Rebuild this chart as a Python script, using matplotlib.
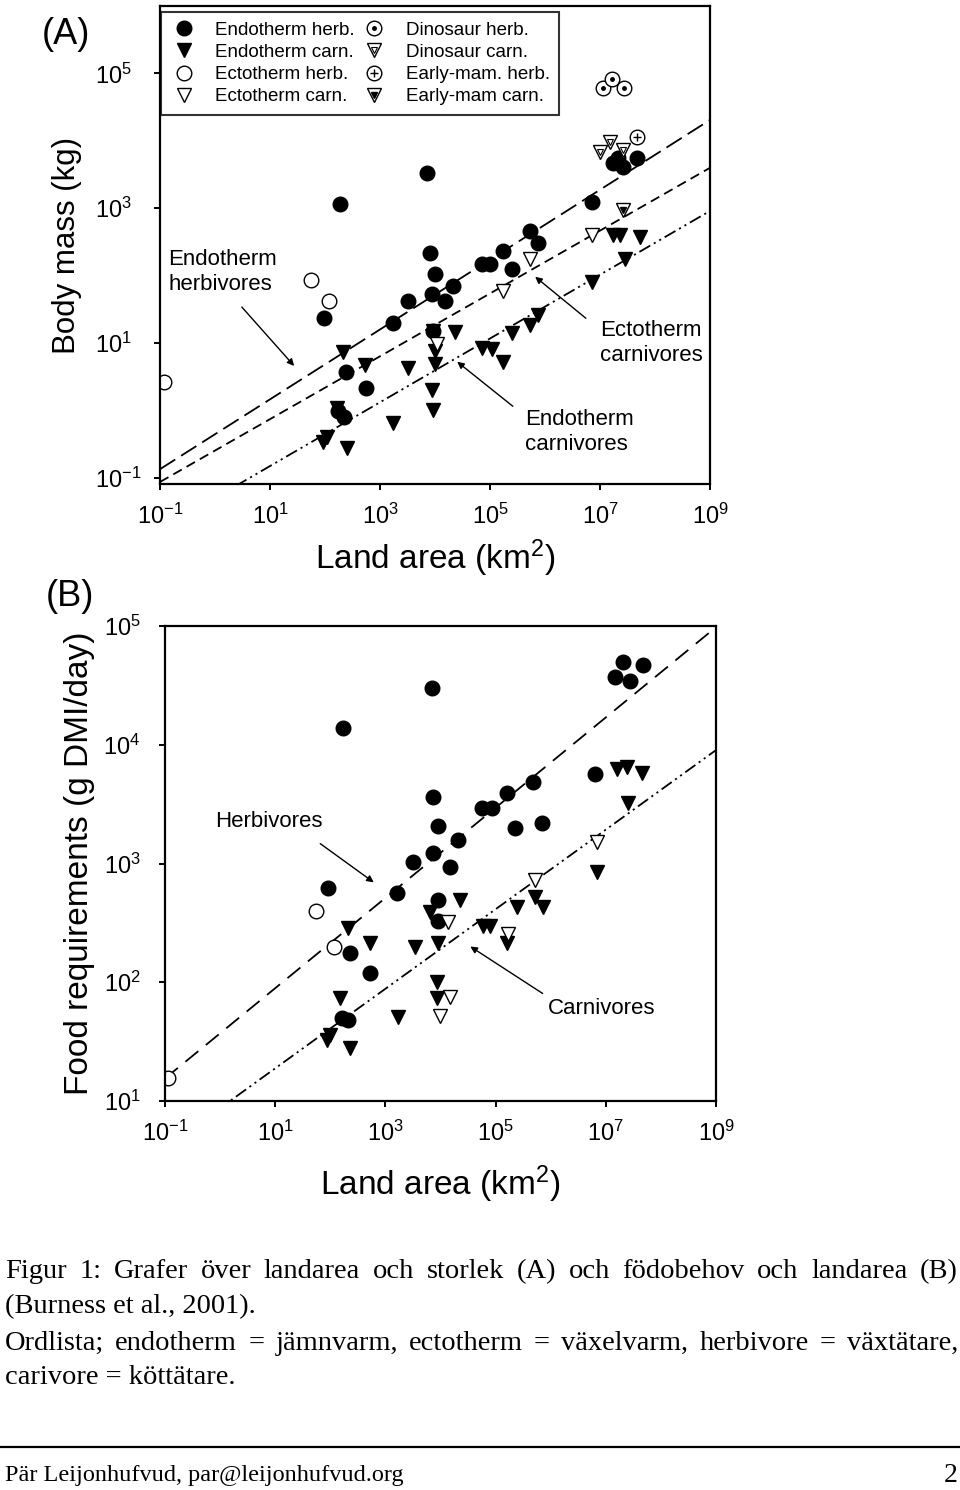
import numpy as np
import matplotlib
matplotlib.use("Agg")
import matplotlib.pyplot as plt
from matplotlib.lines import Line2D

plt.rcParams['font.family'] = ['Liberation Sans', 'DejaVu Sans']
plt.rcParams['mathtext.fontset'] = 'custom'
plt.rcParams['mathtext.rm'] = 'Liberation Sans'
plt.rcParams['mathtext.it'] = 'Liberation Sans:italic'
plt.rcParams['mathtext.bf'] = 'Liberation Sans:bold'
plt.rcParams['lines.scale_dashes'] = False

# ---- data, log10 units ----
# Panel A: land area (km2) vs body mass (kg)
a_endo_herb_x = [2.27, 3.85, 1.98, 2.38, 2.75, 2.24, 2.35, 3.24, 3.51, 3.91, 4.00, 3.95, 4.18,
                 4.33, 4.85, 5.00, 5.24, 5.40, 5.73, 5.87, 6.85, 7.24, 7.42, 7.67, 7.33, 3.96]
a_endo_herb_y = [3.06, 3.52, 1.37, 0.57, 0.33, -0.01, -0.10, 1.30, 1.63, 2.33, 2.03, 1.73, 1.63,
                 1.85, 2.18, 2.18, 2.37, 2.10, 2.67, 2.49, 3.09, 3.67, 3.61, 3.75, 3.75, 1.18]
a_endo_carn_x = [2.33, 2.73, 3.51, 3.96, 4.36, 4.00, 4.00, 3.95, 3.96, 3.24, 2.22, 2.04, 1.96,
                 2.40, 4.85, 5.04, 5.24, 5.40, 5.73, 5.87, 6.85, 7.24, 7.36, 7.73, 7.45]
a_endo_carn_y = [0.87, 0.67, 0.63, 1.18, 1.16, 0.88, 0.69, 0.31, 0.01, -0.19, 0.03, -0.40, -0.46,
                 -0.55, 0.93, 0.91, 0.72, 1.15, 1.27, 1.42, 1.90, 2.60, 2.60, 2.58, 2.25]
a_ecto_herb_x = [1.75, 2.07, -0.93]
a_ecto_herb_y = [1.94, 1.63, 0.43]
a_ecto_carn_x = [5.24, 5.73, 6.85, 4.04]
a_ecto_carn_y = [1.78, 2.25, 2.60, 0.99]
a_dino_herb_x = [7.05, 7.22, 7.44]
a_dino_herb_y = [4.79, 4.91, 4.79]
a_dino_carn_x = [7.00, 7.18, 7.42]
a_dino_carn_y = [3.84, 3.99, 3.87]
a_early_herb_x = [7.67]
a_early_herb_y = [4.06]
a_early_carn_x = [7.42]
a_early_carn_y = [2.97]

# Panel B: land area (km2) vs food requirements (g DMI/day)
b_endo_herb_x = [3.85, 2.23, 3.86, 3.95, 4.32, 3.86, 3.50, 4.17, 3.21, 1.96, 2.36, 2.72, 2.21,
                 2.32, 3.95, 3.95, 4.75, 4.93, 5.21, 5.68, 5.35, 5.84, 7.31, 7.68, 7.17, 7.44, 6.80]
b_endo_herb_y = [4.48, 4.14, 3.56, 3.32, 3.20, 3.09, 3.01, 2.97, 2.75, 2.79, 2.25, 2.08, 1.70,
                 1.68, 2.69, 2.52, 3.47, 3.47, 3.59, 3.69, 3.30, 3.34, 4.70, 4.67, 4.57, 4.54, 3.75]
b_endo_carn_x = [2.32, 2.72, 3.54, 3.95, 3.81, 4.35, 3.94, 3.94, 3.23, 2.18, 1.99, 2.36, 1.94,
                 4.77, 4.90, 5.21, 5.39, 5.72, 5.86, 7.20, 7.38, 7.66, 7.40, 6.84]
b_endo_carn_y = [2.46, 2.33, 2.30, 2.33, 2.59, 2.69, 2.00, 1.87, 1.71, 1.87, 1.56, 1.45, 1.51,
                 2.47, 2.47, 2.33, 2.63, 2.72, 2.63, 3.80, 3.81, 3.76, 3.51, 2.93]
b_ecto_herb_x = [-0.95, 1.74, 2.07]
b_ecto_herb_y = [1.19, 2.60, 2.30]
b_ecto_carn_x = [4.14, 5.72, 6.84, 4.17, 3.99, 5.22]
b_ecto_carn_y = [2.51, 2.86, 3.18, 1.88, 1.72, 2.41]

# regression lines: log10 value at 10^-1 km2 and slope per decade
a_line_names = ["Endotherm herbivores", "Ectotherm carnivores", "Endotherm carnivores"]
a_line_start = [-0.87, -1.06, -1.77]
a_line_slope = [0.518, 0.466, 0.473]
b_line_names = ["Herbivores", "Carnivores"]
b_line_start = [1.19, 0.605]
b_line_slope = [0.380, 0.335]

x_ticks_a = [-1, 1, 3, 5, 7, 9]
y_ticks_a = [-1, 1, 3, 5]
y_ticks_b = [1, 2, 3, 4, 5]

# ---- figure ----
W, H = 960, 1490
fig = plt.figure(figsize=(W / 100, H / 100), dpi=100)


def fx(px):
    return px / W


def fy(py):
    return 1 - py / H


def p(v):
    return 10.0 ** np.asarray(v)


filled_circle = dict(marker='o', ms=10.5, mfc='black', mec='black', mew=1, ls='none')
filled_tri = dict(marker='v', ms=10.5, mfc='black', mec='black', mew=1, ls='none')
open_circle = dict(marker='o', ms=10.5, mfc='white', mec='black', mew=1, ls='none')
open_tri = dict(marker='v', ms=10.5, mfc='white', mec='black', mew=1, ls='none')
dot_in = dict(marker='o', ms=2.5, mfc='black', mec='black', ls='none')
small_tri = dict(marker='v', ms=4.5, mfc='white', mec='black', mew=0.8, ls='none')
plus_in = dict(marker='+', ms=6, mec='black', mew=1, ls='none')
small_tri_fill = dict(marker='v', ms=5, mfc='black', mec='black', ls='none')

line_dashes_a = [(13, 5), (7, 4), (9, 3, 1.5, 3, 1.5, 3)]
line_dashes_b = [(12, 7), (9, 3, 1.5, 3, 1.5, 3)]


def style_axes(ax, yticks):
    ax.set_xscale('log')
    ax.set_yscale('log')
    ax.set_xticks(p(x_ticks_a))
    ax.set_xticklabels(['10$^{%d}$' % t for t in x_ticks_a])
    ax.set_yticks(p(yticks))
    ax.set_yticklabels(['10$^{%d}$' % t for t in yticks])
    ax.minorticks_off()
    ax.tick_params(direction='out', length=4.5, width=1.4, labelsize=17)
    ax.tick_params(axis='x', pad=10)
    for s in ax.spines.values():
        s.set_linewidth(1.6)


# Panel A
axA = fig.add_axes([fx(160), fy(484), 550 / W, 478 / H])
xs = np.linspace(-1, 9, 50)
for st, sl, ds in zip(a_line_start, a_line_slope, line_dashes_a):
    axA.plot(p(xs), p(st + sl * (xs + 1)), color='black', lw=1.3, dashes=ds)
axA.plot(p(a_endo_herb_x), p(a_endo_herb_y), **filled_circle)
axA.plot(p(a_endo_carn_x), p(a_endo_carn_y), **filled_tri)
axA.plot(p(a_ecto_herb_x), p(a_ecto_herb_y), **open_circle)
axA.plot(p(a_ecto_carn_x), p(a_ecto_carn_y), **open_tri)
axA.plot(p(a_dino_herb_x), p(a_dino_herb_y), **open_circle)
axA.plot(p(a_dino_herb_x), p(a_dino_herb_y), **dot_in)
axA.plot(p(a_dino_carn_x), p(a_dino_carn_y), **open_tri)
axA.plot(p(a_dino_carn_x), p(a_dino_carn_y), **small_tri)
axA.plot(p(a_early_herb_x), p(a_early_herb_y), **open_circle)
axA.plot(p(a_early_herb_x), p(a_early_herb_y), **plus_in)
axA.plot(p(a_early_carn_x), p(a_early_carn_y), **open_tri)
axA.plot(p(a_early_carn_x), p(a_early_carn_y), **small_tri_fill)
axA.set_xlim(p(-1), p(9))
axA.set_ylim(p(-1.09), p(6))
style_axes(axA, y_ticks_a)
axA.tick_params(axis='y', pad=42)
for lab in axA.get_yticklabels():
    lab.set_horizontalalignment('left')
axA.set_xlabel('Land area (km$^2$)', fontsize=24, labelpad=6)
axA.set_ylabel('Body mass (kg)', fontsize=22.5, labelpad=10)

handles = [Line2D([], [], **filled_circle), Line2D([], [], **filled_tri),
           Line2D([], [], **open_circle), Line2D([], [], **open_tri),
           (Line2D([], [], **open_circle), Line2D([], [], **dot_in)),
           (Line2D([], [], **open_tri), Line2D([], [], **small_tri)),
           (Line2D([], [], **open_circle), Line2D([], [], **plus_in)),
           (Line2D([], [], **open_tri), Line2D([], [], **small_tri_fill))]
labels = ['Endotherm herb.', 'Endotherm carn.', 'Ectotherm herb.', 'Ectotherm carn.',
          'Dinosaur herb.', 'Dinosaur carn.', 'Early-mam. herb.', 'Early-mam carn.']
leg = axA.legend(handles, labels, ncol=2, loc='upper left', bbox_to_anchor=(0.002, 0.987),
                 borderaxespad=0, fontsize=13.5, frameon=True, fancybox=False,
                 handlelength=1.4, handletextpad=1.0, columnspacing=0.3, labelspacing=0.27,
                 borderpad=0.5)
leg.get_frame().set_edgecolor('black')
leg.get_frame().set_linewidth(1.5)

# Panel B
axB = fig.add_axes([fx(165), fy(1101), 551 / W, 475 / H])
for st, sl, ds in zip(b_line_start, b_line_slope, line_dashes_b):
    axB.plot(p(xs), p(st + sl * (xs + 1)), color='black', lw=1.3, dashes=ds)
axB.plot(p(b_endo_herb_x), p(b_endo_herb_y), **filled_circle)
axB.plot(p(b_endo_carn_x), p(b_endo_carn_y), **filled_tri)
axB.plot(p(b_ecto_herb_x), p(b_ecto_herb_y), **open_circle)
axB.plot(p(b_ecto_carn_x), p(b_ecto_carn_y), **open_tri)
axB.set_xlim(p(-1), p(9))
axB.set_ylim(p(1), p(5))
style_axes(axB, y_ticks_b)
axB.tick_params(axis='y', pad=13)
axB.set_xlabel('Land area (km$^2$)', fontsize=24, labelpad=12)
axB.set_ylabel('Food requirements (g DMI/day)', fontsize=24, labelpad=6)

# annotations
notes = [("Endotherm\nherbivores", 168, 272, 240, 305, 296, 368),
         ("Ectotherm\ncarnivores", 600, 343, 588, 320, 533, 275),
         ("Endotherm\ncarnivores", 525, 432, 515, 408, 455, 360),
         ("Herbivores", 215, 822, 318, 842, 376, 884),
         ("Carnivores", 548, 1008, 545, 995, 468, 945)]
for txt, tx, ty, x0, y0, x1, y1 in notes:
    fig.text(fx(tx), fy(ty), txt, fontsize=16, ha='left', va='center', linespacing=1.2)
    fig.add_artist(matplotlib.patches.FancyArrowPatch(
        (fx(x0), fy(y0)), (fx(x1), fy(y1)), transform=fig.transFigure,
        arrowstyle='-|>', mutation_scale=10, color='black', lw=1.0))

fig.text(fx(66), fy(35), '(A)', fontsize=26, ha='center', va='center')
fig.text(fx(70), fy(597), '(B)', fontsize=26, ha='center', va='center')

# caption
serif = ['Liberation Serif', 'DejaVu Serif']
cap_size = 20.5
renderer = fig.canvas.get_renderer()


def justify(line, py, x0=5, x1=958):
    words = line.split()
    ts = [fig.text(0, fy(py), w, family=serif, fontsize=cap_size, va='center', ha='left')
          for w in words]
    widths = [t.get_window_extent(renderer).width for t in ts]
    gap = (x1 - x0 - sum(widths)) / (len(words) - 1)
    x = x0
    for t, w in zip(ts, widths):
        t.set_x(fx(x))
        x += w + gap


justify("Figur 1: Grafer över landarea och storlek (A) och födobehov och landarea (B)", 1272)
fig.text(fx(5), fy(1307), "(Burness et al., 2001).", family=serif, fontsize=cap_size, va='center')
justify("Ordlista; endotherm = jämnvarm, ectotherm = växelvarm, herbivore = växtätare,", 1343)
fig.text(fx(5), fy(1378), "carivore = köttätare.", family=serif, fontsize=cap_size, va='center')

fig.add_artist(Line2D([0, 1], [fy(1447), fy(1447)], color='black', lw=1.6,
                      transform=fig.transFigure))
fig.text(fx(5), fy(1475), "Pär Leijonhufvud, par@leijonhufvud.org", family=serif,
         fontsize=17.5, va='center')
fig.text(fx(958), fy(1475), "2", family=serif, fontsize=20, va='center', ha='right')

fig.savefig('out.png', dpi=100)
